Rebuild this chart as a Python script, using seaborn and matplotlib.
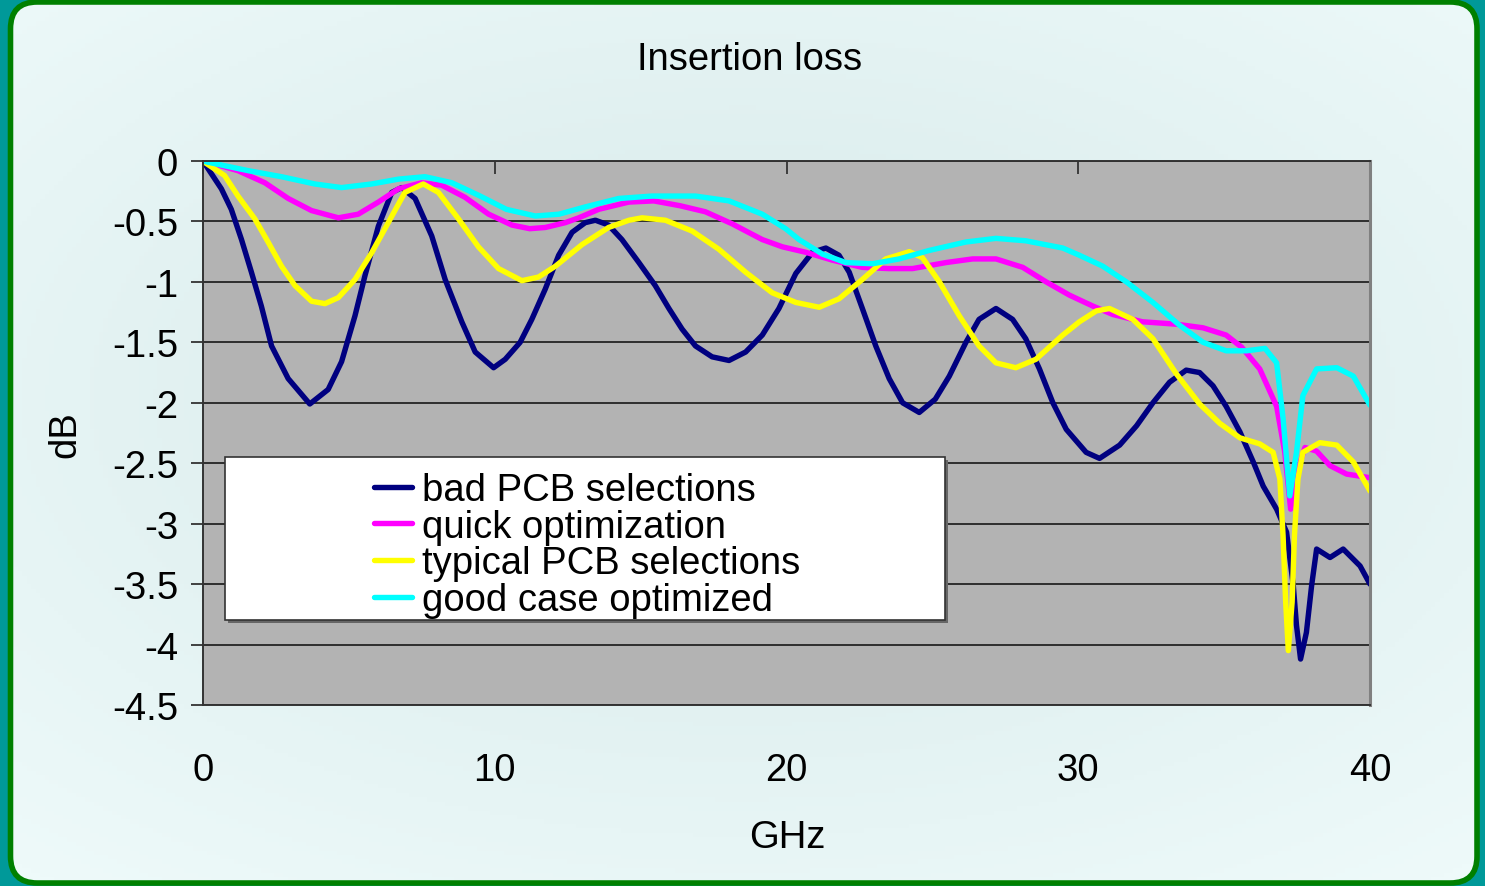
import numpy as np
import pandas as pd
import seaborn as sns
import matplotlib.pyplot as plt
from matplotlib.patches import FancyBboxPatch, Rectangle
from matplotlib.colors import LinearSegmentedColormap

# data (GHz, dB)
bad_ghz = [0.0, 0.63, 0.97, 1.32, 1.66, 2.0, 2.35, 2.92, 3.66, 4.29, 4.75, 5.21, 5.55, 6.01,
           6.47, 6.81, 7.27, 7.84, 8.3, 8.87, 9.33, 9.96, 10.36, 10.87, 11.27, 11.73, 12.19,
           12.65, 13.1, 13.45, 13.9, 14.36, 14.94, 15.5, 15.97, 16.42, 16.88, 17.45, 18.03,
           18.6, 19.17, 19.74, 20.32, 20.89, 21.35, 21.8, 22.15, 22.6, 23.06, 23.52, 23.98,
           24.55, 25.1, 25.58, 26.15, 26.6, 27.18, 27.75, 28.2, 28.67, 29.13, 29.59, 30.27,
           30.73, 31.42, 32.0, 32.56, 33.13, 33.7, 34.16, 34.62, 35.07, 35.54, 36.0, 36.34,
           36.8, 37.14, 37.37, 37.48, 37.62, 37.82, 38.0, 38.17, 38.63, 39.08, 39.66, 40.0]
bad_db = [0.0, -0.23, -0.40, -0.65, -0.92, -1.20, -1.53, -1.80, -2.01, -1.89, -1.66, -1.28,
          -0.95, -0.54, -0.26, -0.22, -0.31, -0.62, -0.98, -1.33, -1.58, -1.71, -1.64, -1.50,
          -1.31, -1.06, -0.78, -0.59, -0.51, -0.49, -0.53, -0.65, -0.84, -1.03, -1.22, -1.39,
          -1.53, -1.62, -1.65, -1.58, -1.44, -1.22, -0.93, -0.755, -0.72, -0.78, -0.92, -1.22,
          -1.53, -1.80, -2.0, -2.08, -1.97, -1.78, -1.50, -1.31, -1.22, -1.31, -1.47, -1.72,
          -2.0, -2.22, -2.41, -2.46, -2.35, -2.19, -2.0, -1.83, -1.73, -1.75, -1.86, -2.03,
          -2.24, -2.49, -2.69, -2.88, -3.07, -3.51, -3.84, -4.12, -3.90, -3.51, -3.21, -3.28,
          -3.21, -3.35, -3.50]

quick_ghz = [0.0, 0.17, 1.2, 2.12, 2.92, 3.72, 4.64, 5.32, 6.01, 6.7, 7.5, 8.18, 8.98, 9.79,
             10.59, 11.2, 11.73, 12.42, 12.88, 13.56, 14.59, 15.45, 16.35, 17.22, 18.14, 19.17,
             19.86, 20.66, 21.57, 22.6, 23.5, 24.32, 25.47, 26.38, 27.18, 28.1, 28.9, 29.7,
             30.5, 31.19, 32.2, 33.36, 34.28, 35.07, 35.6, 36.22, 36.8, 37.08, 37.28, 37.53,
             37.77, 38.17, 38.63, 39.2, 40.0]
quick_db = [0.0, -0.01, -0.08, -0.18, -0.31, -0.41, -0.47, -0.44, -0.34, -0.23, -0.18, -0.20,
            -0.30, -0.44, -0.53, -0.56, -0.55, -0.51, -0.47, -0.40, -0.34, -0.33, -0.37, -0.42,
            -0.52, -0.65, -0.71, -0.755, -0.82, -0.88, -0.89, -0.89, -0.84, -0.81, -0.81, -0.88,
            -1.0, -1.11, -1.20, -1.27, -1.33, -1.35, -1.38, -1.44, -1.54, -1.72, -2.03, -2.41,
            -2.88, -2.55, -2.37, -2.40, -2.52, -2.59, -2.62]

typical_ghz = [0.0, 0.11, 0.74, 1.2, 1.78, 2.23, 2.69, 3.15, 3.72, 4.18, 4.64, 5.21, 5.78,
               6.35, 6.92, 7.55, 8.07, 8.76, 9.44, 10.13, 10.93, 11.5, 12.08, 13.0, 13.9, 14.6,
               15.05, 15.85, 16.77, 17.68, 18.6, 19.51, 20.32, 21.12, 21.8, 22.6, 23.4, 24.21,
               24.66, 25.24, 25.92, 26.6, 27.18, 27.86, 28.55, 29.47, 30.04, 30.62, 31.07,
               31.87, 32.56, 33.36, 34.16, 34.85, 35.54, 36.22, 36.68, 36.91, 37.02, 37.11,
               37.2, 37.33, 37.41, 37.53, 37.7, 38.28, 38.86, 39.43, 40.0]
typical_db = [0.0, -0.02, -0.12, -0.29, -0.48, -0.67, -0.87, -1.03, -1.16, -1.18, -1.13, -0.98,
              -0.76, -0.51, -0.26, -0.19, -0.26, -0.48, -0.71, -0.89, -0.99, -0.96, -0.87,
              -0.69, -0.55, -0.49, -0.47, -0.49, -0.58, -0.73, -0.92, -1.09, -1.17, -1.21,
              -1.14, -0.98, -0.81, -0.75, -0.80, -1.0, -1.28, -1.53, -1.67, -1.71, -1.64, -1.44,
              -1.33, -1.24, -1.22, -1.31, -1.47, -1.76, -2.01, -2.17, -2.29, -2.34, -2.41,
              -2.63, -3.10, -3.65, -4.05, -3.65, -3.10, -2.63, -2.41, -2.33, -2.35, -2.49, -2.73]

good_ghz = [0.0, 0.17, 1.55, 2.69, 3.83, 4.75, 5.78, 6.7, 7.61, 8.53, 9.5, 10.4, 11.39, 12.2,
            13.1, 14.25, 15.39, 16.88, 18.03, 19.17, 19.97, 20.43, 21.23, 22.03, 22.95, 23.86,
            24.89, 26.15, 27.18, 28.2, 29.47, 30.04, 30.84, 31.65, 32.56, 33.48, 34.28, 35.07,
            35.77, 36.4, 36.8, 37.02, 37.25, 37.48, 37.7, 38.17, 38.86, 39.43, 40.0]
good_db = [0.0, -0.01, -0.08, -0.13, -0.19, -0.22, -0.19, -0.15, -0.13, -0.18, -0.29, -0.40,
           -0.455, -0.44, -0.38, -0.31, -0.29, -0.29, -0.33, -0.44, -0.56, -0.65, -0.77, -0.84,
           -0.85, -0.81, -0.74, -0.67, -0.64, -0.66, -0.72, -0.78, -0.87, -1.0, -1.17, -1.36,
           -1.50, -1.57, -1.57, -1.55, -1.67, -2.13, -2.77, -2.41, -1.94, -1.72, -1.71, -1.78,
           -2.02]

series_names = ["bad PCB selections", "quick optimization", "typical PCB selections",
                "good case optimized"]
series_colors = ["#000080", "#ff00ff", "#ffff00", "#00ffff"]
x_ticks = [0, 10, 20, 30, 40]
y_ticks = [0, -0.5, -1, -1.5, -2, -2.5, -3, -3.5, -4, -4.5]

frames = []
for name, gx, gy in zip(series_names,
                        [bad_ghz, quick_ghz, typical_ghz, good_ghz],
                        [bad_db, quick_db, typical_db, good_db]):
    frames.append(pd.DataFrame({"GHz": gx, "dB": gy, "series": name}))
df = pd.concat(frames, ignore_index=True)

sns.set_theme(style="white")
plt.rcParams['font.family'] = ['Liberation Sans', 'DejaVu Sans']
plt.rcParams['axes.unicode_minus'] = False
plt.rcParams['text.color'] = 'black'

W, H = 1485, 887
fig = plt.figure(figsize=(W / 100, H / 100), dpi=100, facecolor="#009999")

# background: rounded green frame with soft gradient fill
bg = fig.add_axes([0, 0, 1, 1], zorder=-5)
bg.set_xlim(0, 1)
bg.set_ylim(0, 1)
bg.axis("off")
yy, xx = np.mgrid[0:1:200j, 0:1:330j]
r = np.sqrt(((xx - 0.5) / 0.75) ** 2 + ((yy - 0.55) / 0.7) ** 2)
cmap = LinearSegmentedColormap.from_list("bg", ["#d6e9e9", "#eefafa"])
frame = FancyBboxPatch((10.5 / W, 3 / H), (1477 - 10.5) / W, (884 - 3) / H,
                       boxstyle="round,pad=0,rounding_size=0.018",
                       mutation_aspect=W / H,
                       transform=bg.transAxes, facecolor="none",
                       edgecolor="#008000", linewidth=4, zorder=3)
bg.add_patch(frame)
im = bg.imshow(np.clip(r, 0, 1), extent=[0, 1, 0, 1], origin="lower", aspect="auto",
               cmap=cmap, zorder=1)
im.set_clip_path(frame)

ax = fig.add_axes([203 / W, 1 - 706 / H, (1370 - 203) / W, (706 - 162) / H])
ax.set_facecolor("#b3b3b3")

sns.lineplot(data=df, x="GHz", y="dB", hue="series", hue_order=series_names,
             palette=series_colors, estimator=None, sort=False, linewidth=3.9,
             legend=False, ax=ax)
for ln in ax.get_lines():
    ln.set_solid_joinstyle("round")
    ln.set_solid_capstyle("round")

ax.set_xlim(0, 40)
ax.set_ylim(-4.5, 0)
ax.set_xticks(x_ticks)
ax.set_xticklabels([str(v) for v in x_ticks])
ax.set_yticks(y_ticks)
ax.set_yticklabels([f"{v:g}" for v in y_ticks])
ax.set_xlabel("")
ax.set_ylabel("")
ax.yaxis.grid(True, color="#2e2e2e", linewidth=1.4)
ax.xaxis.grid(False)
ax.set_axisbelow(True)

ax.tick_params(axis="x", which="both", top=True, bottom=False, labeltop=False,
               labelbottom=True, direction="in", length=9, width=1.3, color="#333333",
               pad=34, labelsize=27.5, labelcolor="black")
ax.tick_params(axis="y", left=True, direction="out", length=9, width=1.3, color="#333333",
               pad=9, labelsize=27.5, labelcolor="black")
for side in ["top", "left", "bottom"]:
    ax.spines[side].set_color("#333333")
    ax.spines[side].set_linewidth(1.4)
ax.spines["right"].set_color("#808080")
ax.spines["right"].set_linewidth(2.2)

# legend box (Excel style, wide white box)
ax.add_patch(Rectangle((0.0215, 0.150), 0.617, 0.300, transform=ax.transAxes,
                       facecolor="#666666", edgecolor="none", zorder=3))
ax.add_patch(Rectangle((0.0189, 0.156), 0.617, 0.300, transform=ax.transAxes,
                       facecolor="white", edgecolor="#333333", linewidth=1.2, zorder=3.5))
handles = ax.get_lines()[:4]
leg = ax.legend(handles, series_names, loc="center", bbox_to_anchor=(0.329, 0.294),
                frameon=False, fontsize=27.5, handlelength=1.0, handletextpad=0.25,
                labelspacing=0.02, borderpad=0)
leg.set_zorder(4)
for t in leg.get_texts():
    t.set_color("black")

fig.text(750 / W, 1 - 60 / H, "Insertion loss", ha="center", va="center", fontsize=27.5)
fig.text(787 / W, 1 - 838 / H, "GHz", ha="center", va="center", fontsize=27.5)
fig.text(65 / W, 1 - 435 / H, "dB", ha="center", va="center", rotation=90, fontsize=27.5)

fig.savefig("out.png", dpi=100, facecolor=fig.get_facecolor())
